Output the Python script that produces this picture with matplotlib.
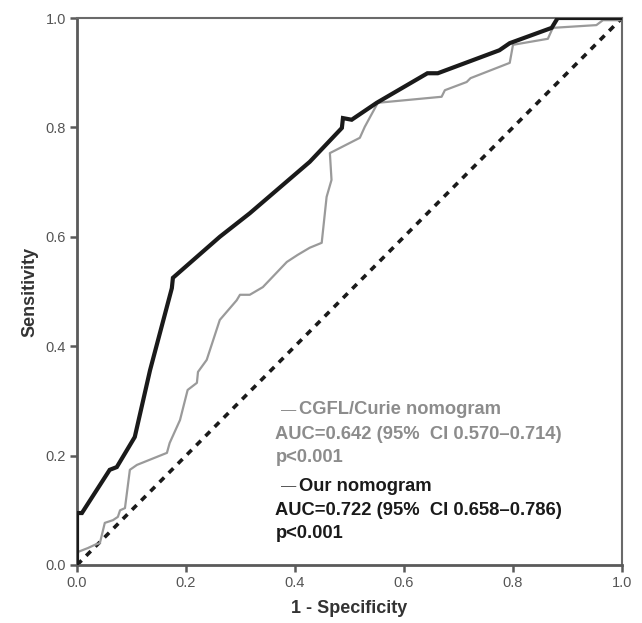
import matplotlib
matplotlib.use("Agg")
import matplotlib.pyplot as plt

# ROC coordinates (1 - specificity, sensitivity)
our_fpr = [0.000, 0.000, 0.009, 0.060, 0.073, 0.106, 0.134, 0.174, 0.176, 0.262,
           0.317, 0.427, 0.486, 0.488, 0.504, 0.550, 0.643, 0.662, 0.775, 0.794,
           0.871, 0.882, 1.000]
our_tpr = [0.000, 0.095, 0.095, 0.174, 0.179, 0.234, 0.356, 0.506, 0.525, 0.600,
           0.643, 0.737, 0.799, 0.817, 0.814, 0.845, 0.899, 0.899, 0.941, 0.954,
           0.982, 1.000, 1.000]

cgfl_fpr = [0.000, 0.002, 0.020, 0.033, 0.042, 0.051, 0.066, 0.075, 0.079, 0.088,
            0.097, 0.110, 0.165, 0.170, 0.189, 0.203, 0.220, 0.222, 0.238, 0.262,
            0.293, 0.299, 0.317, 0.341, 0.385, 0.405, 0.427, 0.449, 0.458, 0.467,
            0.464, 0.519, 0.528, 0.552, 0.669, 0.675, 0.715, 0.722, 0.794, 0.800,
            0.864, 0.873, 0.953, 0.965, 0.995, 1.000]
cgfl_tpr = [0.000, 0.024, 0.031, 0.037, 0.040, 0.077, 0.082, 0.088, 0.100, 0.104,
            0.174, 0.183, 0.205, 0.223, 0.265, 0.320, 0.333, 0.353, 0.375, 0.448,
            0.484, 0.494, 0.494, 0.508, 0.554, 0.567, 0.580, 0.589, 0.673, 0.704,
            0.753, 0.781, 0.801, 0.845, 0.856, 0.868, 0.883, 0.890, 0.918, 0.951,
            0.962, 0.982, 0.987, 0.996, 0.996, 1.000]

ref_line = [0.0, 1.0]
ticks = [0.0, 0.2, 0.4, 0.6, 0.8, 1.0]
tick_labels = ["0.0", "0.2", "0.4", "0.6", "0.8", "1.0"]

GRAY = "#8c8c8c"
DARK = "#1a1a1a"
AXIS = "#5a5a5a"

plt.rcParams["font.family"] = ["Liberation Sans", "DejaVu Sans"]

fig = plt.figure(figsize=(6.42, 6.23), dpi=100)
ax = fig.add_axes([77 / 642, 58 / 623, 545 / 642, 547 / 623])

ax.plot(ref_line, ref_line, color=DARK, lw=2.6, ls=(0, (1.8, 1.8)), zorder=2)
ax.plot(cgfl_fpr, cgfl_tpr, color="#9a9a9a", lw=1.6, zorder=3)
ax.plot(our_fpr, our_tpr, color=DARK, lw=3.0, zorder=4, solid_joinstyle="miter")

ax.set_xlim(0, 1)
ax.set_ylim(0, 1)
ax.set_xticks(ticks)
ax.set_xticklabels(tick_labels)
ax.set_yticks(ticks)
ax.set_yticklabels(tick_labels)
ax.tick_params(direction="out", length=5, width=1.8, color=AXIS,
               labelcolor="#555555", labelsize=10.5, pad=3)

for side in ["left", "bottom"]:
    ax.spines[side].set_linewidth(2.0)
    ax.spines[side].set_color(AXIS)
for side in ["top", "right"]:
    ax.spines[side].set_linewidth(1.5)
    ax.spines[side].set_color("#6a6a6a")

ax.set_xlabel("1 - Specificity", fontsize=13, fontweight="bold", color="#333333", labelpad=7)
ax.set_ylabel("Sensitivity", fontsize=13, fontweight="bold", color="#333333", labelpad=5)

# annotation block
tx = 0.364
fs = 13.2
ax.text(tx + 0.010, 0.284, "—", color=GRAY, fontsize=11, va="center", ha="left")
ax.text(tx + 0.044, 0.284, "CGFL/Curie nomogram", color=GRAY, fontsize=fs,
        fontweight="bold", va="center", ha="left")
ax.text(tx, 0.238, "AUC=0.642 (95%  CI 0.570–0.714)", color=GRAY, fontsize=fs,
        fontweight="bold", va="center", ha="left")
ax.text(tx, 0.196, "p<0.001", color=GRAY, fontsize=fs,
        fontweight="bold", va="center", ha="left")
ax.text(tx + 0.010, 0.144, "—", color="#555555", fontsize=11, va="center", ha="left")
ax.text(tx + 0.044, 0.144, "Our nomogram", color=DARK, fontsize=fs,
        fontweight="bold", va="center", ha="left")
ax.text(tx, 0.099, "AUC=0.722 (95%  CI 0.658–0.786)", color=DARK, fontsize=fs,
        fontweight="bold", va="center", ha="left")
ax.text(tx, 0.057, "p<0.001", color=DARK, fontsize=fs,
        fontweight="bold", va="center", ha="left")

fig.savefig("out.png", dpi=100, facecolor="white")
